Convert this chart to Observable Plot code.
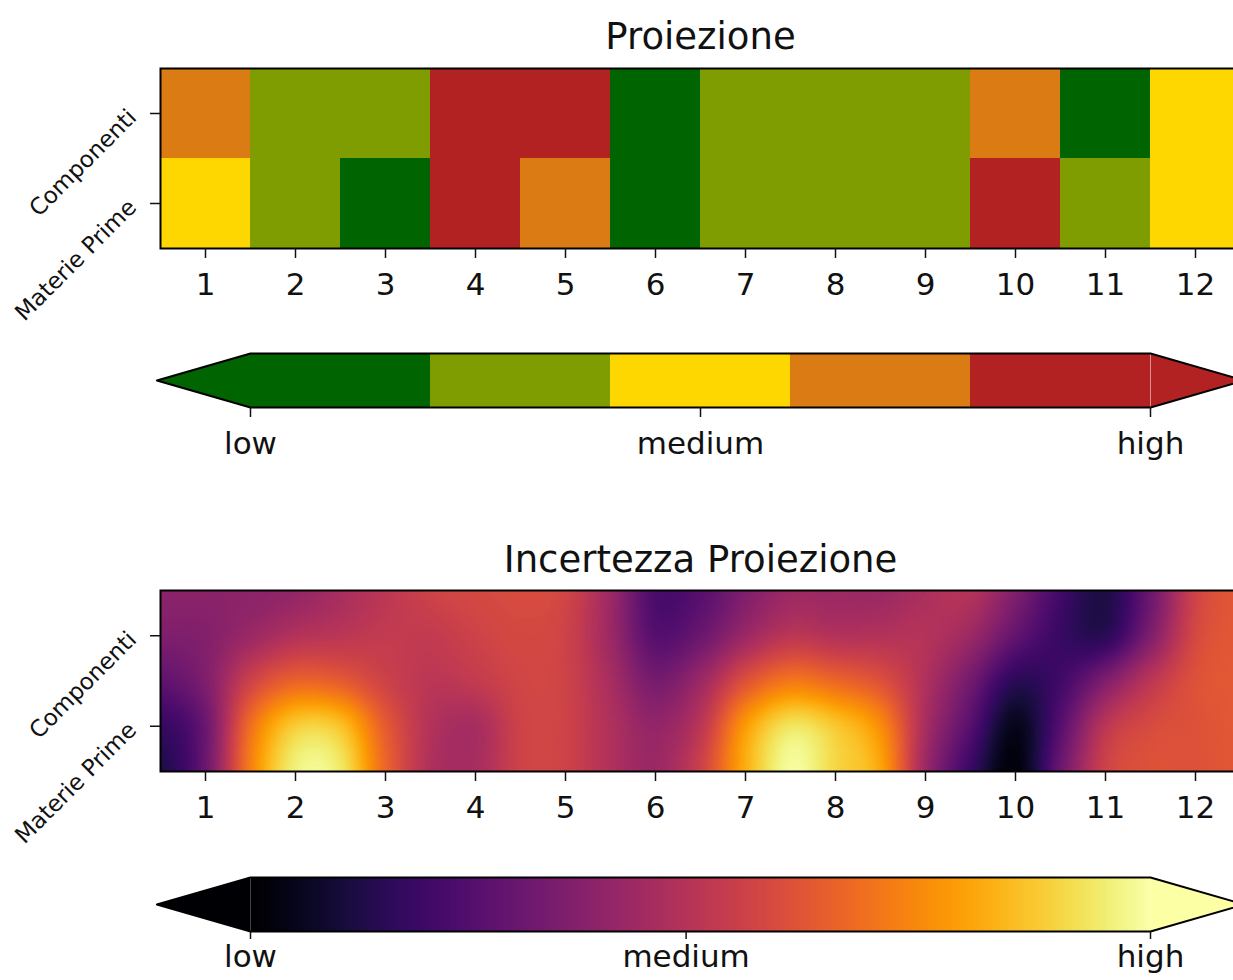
<!DOCTYPE html>
<html>
<head>
<meta charset="utf-8">
<script src="https://cdn.jsdelivr.net/npm/d3@7"></script>
<script src="https://cdn.jsdelivr.net/npm/@observablehq/plot@0.6"></script>
<style>
html, body { margin: 0; padding: 0; overflow: hidden; background: #fff; }
#root { position: relative; width: 1233px; height: 980px; overflow: hidden; }
#root > svg { position: absolute; left: 0; max-width: none !important; width: 1245px !important; }
</style>
</head>
<body>
<div id="root"></div>
<script>
// ---- data ----
const months = [1, 2, 3, 4, 5, 6, 7, 8, 9, 10, 11, 12];
const rowNames = ["Componenti", "Materie Prime"];
const levelNames = ["low", "medium", "high"];
const levelColors = ["#006400", "#7f9d00", "#ffd700", "#da7b13", "#b22222"];
const componentiLevels = [4, 2, 2, 5, 5, 1, 2, 2, 2, 4, 1, 3];
const materiePrimeLevels = [3, 2, 1, 5, 4, 1, 2, 2, 2, 5, 2, 3];

// uncertainty samples (0..1), read on a half-month grid, rows from top edge to bottom edge
const uncX = [0.5, 1, 1.5, 2, 2.5, 3, 3.5, 4, 4.5, 5, 5.5, 6, 6.5, 7, 7.5, 8, 8.5, 9, 9.5, 10, 10.5, 11, 11.5, 12, 12.5];
const uncRowY = [2, 1.5, 1, 0.5, 0];
const uncTopEdge      = [0.38, 0.38, 0.38, 0.40, 0.45, 0.50, 0.55, 0.57, 0.58, 0.56, 0.42, 0.22, 0.25, 0.35, 0.42, 0.42, 0.42, 0.46, 0.48, 0.35, 0.20, 0.12, 0.30, 0.55, 0.62];
const uncComponenti   = [0.35, 0.36, 0.42, 0.48, 0.50, 0.52, 0.52, 0.55, 0.57, 0.55, 0.42, 0.25, 0.30, 0.42, 0.50, 0.48, 0.48, 0.48, 0.42, 0.28, 0.18, 0.15, 0.35, 0.57, 0.62];
const uncMiddle       = [0.27, 0.35, 0.55, 0.65, 0.63, 0.55, 0.50, 0.52, 0.56, 0.55, 0.45, 0.33, 0.42, 0.60, 0.70, 0.66, 0.60, 0.47, 0.32, 0.15, 0.20, 0.35, 0.50, 0.60, 0.62];
const uncMateriePrime = [0.17, 0.30, 0.68, 0.88, 0.86, 0.63, 0.48, 0.45, 0.55, 0.55, 0.47, 0.40, 0.50, 0.78, 0.93, 0.87, 0.75, 0.45, 0.25, 0.05, 0.25, 0.50, 0.58, 0.60, 0.62];
const uncBottomEdge   = [0.12, 0.30, 0.72, 0.96, 0.94, 0.66, 0.47, 0.45, 0.55, 0.55, 0.47, 0.42, 0.55, 0.82, 0.99, 0.90, 0.80, 0.42, 0.18, 0.02, 0.30, 0.55, 0.60, 0.60, 0.62];
const uncTickValues = [0, 0.484, 1];

// ---- shared style ----
const FONT = "DejaVu Sans";
const TXT = "#111";
const root = document.getElementById("root");
function place(svg, top) { svg.style.top = top + "px"; root.appendChild(svg); }

// ---- 1. Proiezione heatmap ----
const cells = months.flatMap((m, i) => [
  {month: m, row: rowNames[0], level: componentiLevels[i]},
  {month: m, row: rowNames[1], level: materiePrimeLevels[i]}
]);
const p1 = Plot.plot({
  width: 1245, height: 320,
  marginTop: 68, marginBottom: 72, marginLeft: 160, marginRight: 5,
  style: {fontFamily: FONT, color: TXT, background: "transparent", overflow: "visible"},
  x: {type: "band", domain: months, padding: 0, axis: null},
  y: {type: "band", domain: rowNames, padding: 0, axis: null},
  color: {type: "ordinal", domain: [1, 2, 3, 4, 5], range: levelColors},
  marks: [
    Plot.cell(cells, {x: "month", y: "row", fill: "level", inset: 0, shapeRendering: "crispEdges"}),
    Plot.frame({stroke: "#000", strokeWidth: 2}),
    Plot.axisX({tickSize: 10, tickPadding: 14, fontSize: 31, label: null, strokeWidth: 1.5}),
    Plot.axisY({tickSize: 10, tickPadding: 18, fontSize: 23, tickRotate: -45, textAnchor: "end", label: null, strokeWidth: 1.5}),
    Plot.text(["Proiezione"], {frameAnchor: "top", dy: -31, fontSize: 37, lineAnchor: "middle", fill: TXT})
  ]
});
place(p1, 0);

// ---- 2. discrete colorbar ----
const nLev = levelColors.length;
const ext = 0.52;
const bands = levelColors.map((c, i) => ({x1: i, x2: i + 1, c}));
const leftArrow = [{x: 0, y: 0}, {x: -ext, y: 0.5}, {x: 0, y: 1}];
const rightArrow = [{x: nLev, y: 0}, {x: nLev + ext, y: 0.5}, {x: nLev, y: 1}];
const outline1 = [{x: 0, y: 1}, {x: nLev, y: 1}, {x: nLev + ext, y: 0.5}, {x: nLev, y: 0}, {x: 0, y: 0}, {x: -ext, y: 0.5}, {x: 0, y: 1}];
const p2 = Plot.plot({
  width: 1245, height: 160,
  marginTop: 33, marginBottom: 73, marginLeft: 160, marginRight: 5,
  style: {fontFamily: FONT, color: TXT, background: "transparent", overflow: "visible"},
  x: {domain: [-0.5, nLev + 0.5], axis: null},
  y: {domain: [0, 1], axis: null},
  color: {type: "identity"},
  marks: [
    Plot.rect(bands, {x1: "x1", x2: "x2", y1: 0, y2: 1, fill: "c", shapeRendering: "crispEdges"}),
    Plot.line(leftArrow, {x: "x", y: "y", fill: levelColors[0], stroke: "none"}),
    Plot.line(rightArrow, {x: "x", y: "y", fill: levelColors[nLev - 1], stroke: "none"}),
    Plot.line(outline1, {x: "x", y: "y", stroke: "#000", strokeWidth: 2}),
    Plot.axisX([0, nLev / 2, nLev], {tickSize: 10, tickPadding: 14, fontSize: 31, label: null, strokeWidth: 1.5,
      tickFormat: (d, i) => levelNames[i]})
  ]
});
place(p2, 320);

// ---- 3. Incertezza Proiezione heatmap ----
const uncRows = [uncTopEdge, uncComponenti, uncMiddle, uncMateriePrime, uncBottomEdge];
const uncPoints = uncRows.flatMap((row, r) => row.map((v, c) => ({x: uncX[c], y: uncRowY[r], v})));
const nCols = uncX.length, nRows = uncRowY.length;

// bicubic (Catmull-Rom) resampling of the gridded samples, like imshow(interpolation="bicubic")
function bicubic(index, width, height, X, Y, V) {
  const g = (r, c) => V[index[Math.max(0, Math.min(nRows - 1, r)) * nCols + Math.max(0, Math.min(nCols - 1, c))]];
  const x0 = X[index[0]], dx = X[index[1]] - X[index[0]];
  const y0 = Y[index[0]], dy = Y[index[nCols]] - Y[index[0]];
  const cr = (p0, p1, p2, p3, t) => 0.5 * ((2 * p1) + (-p0 + p2) * t + (2 * p0 - 5 * p1 + 4 * p2 - p3) * t * t + (-p0 + 3 * p1 - 3 * p2 + p3) * t * t * t);
  const out = new Float64Array(width * height);
  for (let j = 0; j < height; ++j) {
    const v = Math.max(0, Math.min(nRows - 1, (j + 0.5 - y0) / dy));
    const r = Math.min(nRows - 2, Math.floor(v)), tv = v - r;
    for (let i = 0; i < width; ++i) {
      const u = Math.max(0, Math.min(nCols - 1, (i + 0.5 - x0) / dx));
      const c = Math.min(nCols - 2, Math.floor(u)), tu = u - c;
      const rowsI = [-1, 0, 1, 2].map(k => cr(g(r + k, c - 1), g(r + k, c), g(r + k, c + 1), g(r + k, c + 2), tu));
      out[j * width + i] = Math.max(0, Math.min(1, cr(rowsI[0], rowsI[1], rowsI[2], rowsI[3], tv)));
    }
  }
  return out;
}

const p3 = Plot.plot({
  width: 1245, height: 360,
  marginTop: 110, marginBottom: 69, marginLeft: 160, marginRight: 5,
  style: {fontFamily: FONT, color: TXT, background: "transparent", overflow: "visible"},
  x: {domain: [months[0] - 0.5, months[months.length - 1] + 0.5], axis: null},
  y: {domain: [0, 2], axis: null},
  color: {type: "linear", scheme: "inferno", domain: [0, 1]},
  marks: [
    Plot.raster(uncPoints, {
      x: "x", y: "y", fill: "v",
      x1: uncX[0], x2: uncX[nCols - 1], y1: 0, y2: 2,
      pixelSize: 2, interpolate: bicubic
    }),
    Plot.frame({stroke: "#000", strokeWidth: 2}),
    Plot.axisX(months, {tickSize: 10, tickPadding: 14, fontSize: 31, label: null, strokeWidth: 1.5, tickFormat: d => String(d)}),
    Plot.axisY([1.5, 0.5], {tickSize: 10, tickPadding: 18, fontSize: 23, tickRotate: -45, textAnchor: "end", label: null, strokeWidth: 1.5,
      tickFormat: (d, i) => rowNames[i]}),
    Plot.text(["Incertezza Proiezione"], {frameAnchor: "top", dy: -30, fontSize: 37, lineAnchor: "middle", fill: TXT})
  ]
});
place(p3, 480);

// ---- 4. continuous colorbar ----
const ext2 = 0.104;
const outline2 = [{x: 0, y: 1}, {x: 1, y: 1}, {x: 1 + ext2, y: 0.5}, {x: 1, y: 0}, {x: 0, y: 0}, {x: -ext2, y: 0.5}, {x: 0, y: 1}];
const p4 = Plot.plot({
  width: 1245, height: 140,
  marginTop: 37, marginBottom: 49, marginLeft: 160, marginRight: 5,
  style: {fontFamily: FONT, color: TXT, background: "transparent", overflow: "visible"},
  x: {domain: [-0.1, 1.1], axis: null},
  y: {domain: [0, 1], axis: null},
  color: {type: "linear", scheme: "inferno", domain: [0, 1]},
  marks: [
    Plot.raster({x1: 0, x2: 1, y1: 0, y2: 1, width: 256, height: 1, fill: (x, y) => x}),
    Plot.line([{x: 0, y: 0}, {x: -ext2, y: 0.5}, {x: 0, y: 1}], {x: "x", y: "y", fill: d3.interpolateInferno(0), stroke: "none"}),
    Plot.line([{x: 1, y: 0}, {x: 1 + ext2, y: 0.5}, {x: 1, y: 1}], {x: "x", y: "y", fill: d3.interpolateInferno(1), stroke: "none"}),
    Plot.line(outline2, {x: "x", y: "y", stroke: "#000", strokeWidth: 2}),
    Plot.axisX(uncTickValues, {tickSize: 8, tickPadding: 5, fontSize: 31, label: null, strokeWidth: 1.5,
      tickFormat: (d, i) => levelNames[i]})
  ]
});
place(p4, 840);
</script>
</body>
</html>
